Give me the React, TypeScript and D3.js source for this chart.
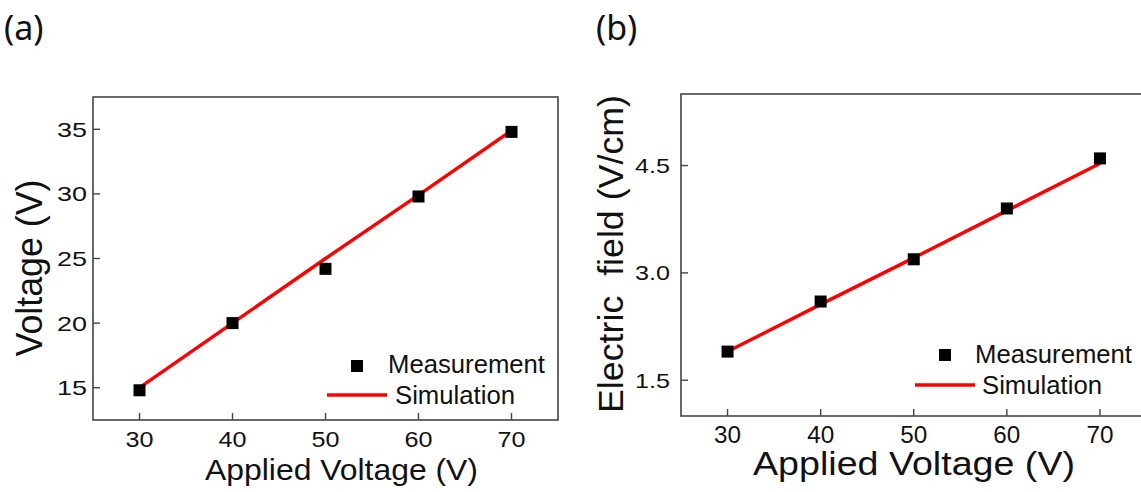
import React from "react";
import * as d3 from "d3";

// ---- data ----
const appliedVoltage = [30, 40, 50, 60, 70];
const measVoltage = [14.8, 20.0, 24.2, 29.8, 34.8];
const simVoltage = [15.0, 20.0, 25.0, 29.9, 34.9];
const measField = [1.9, 2.6, 3.19, 3.9, 4.6];
const simField = [1.9, 2.56, 3.21, 3.87, 4.53];
const xTickValues = [30, 40, 50, 60, 70];
const yTicksVoltage = [15, 20, 25, 30, 35];
const yTicksField = [1.5, 3.0, 4.5];
const legendLabels = ["Measurement", "Simulation"];

const FONT = "'Liberation Sans', Arial, Helvetica, sans-serif";

type TProps = {
  x: number; y: number; size: number; len?: number; anchor?: string;
  rotate?: boolean; children: React.ReactNode; family?: string; pre?: boolean;
};
function T({ x, y, size, len, anchor = "start", rotate, children, family = FONT, pre }: TProps) {
  return (
    <text
      x={rotate ? 0 : x}
      y={rotate ? 0 : y}
      transform={rotate ? `translate(${x},${y}) rotate(-90)` : undefined}
      fontSize={size}
      fontFamily={family}
      textAnchor={anchor}
      fill="#111"
      textLength={len}
      lengthAdjust={len ? "spacingAndGlyphs" : undefined}
      style={pre ? { whiteSpace: "pre" } : undefined}
    >
      {children}
    </text>
  );
}

type PanelProps = {
  left: number; right: number; top: number; bottom: number;
  yDomain: [number, number]; yTicks: number[]; meas: number[]; sim: number[];
  yFmt: (v: number) => string;
  xTickBase: number; xTickSize: number; xTickLen: number;
  yTickEnd: number; yTickSize: number; yTickLen: number;
  xTitle: { x: number; y: number; size: number; len: number };
  yTitle: { x: number; y: number; size: number; len: number; text: string };
  legend: { sqX: number; sqY: number; textX: number; mBase: number; lineX1: number; lineX2: number; lineY: number; sTextX: number; sBase: number };
};

function Panel(p: PanelProps) {
  const x = d3.scaleLinear().domain([25, 75]).range([p.left, p.right]);
  const y = d3.scaleLinear().domain(p.yDomain).range([p.bottom, p.top]);
  const line = d3.line<number>().x((_, i) => x(appliedVoltage[i])).y((d) => y(d));
  const tick = 7;
  const sq = 12;
  return (
    <g>
      <rect x={p.left} y={p.top} width={p.right - p.left} height={p.bottom - p.top}
        fill="none" stroke="#444" strokeWidth={1.6} />
      {xTickValues.map((t) => (
        <g key={"xt" + t}>
          <line x1={x(t)} x2={x(t)} y1={p.bottom} y2={p.bottom - tick} stroke="#444" strokeWidth={1.4} />
          <T x={x(t)} y={p.xTickBase} size={p.xTickSize} len={p.xTickLen} anchor="middle">{String(t)}</T>
        </g>
      ))}
      {p.yTicks.map((t) => (
        <g key={"yt" + t}>
          <line x1={p.left} x2={p.left + tick} y1={y(t)} y2={y(t)} stroke="#444" strokeWidth={1.4} />
          <T x={p.yTickEnd} y={y(t) + p.yTickSize * 0.36} size={p.yTickSize} len={p.yTickLen} anchor="end">{p.yFmt(t)}</T>
        </g>
      ))}
      <path d={line(p.sim) || ""} fill="none" stroke="#ff0000" strokeWidth={3.4} />
      {p.meas.map((v, i) => (
        <rect key={"m" + i} x={x(appliedVoltage[i]) - sq / 2} y={y(v) - sq / 2} width={sq} height={sq} fill="#000" />
      ))}
      {/* legend */}
      <rect x={p.legend.sqX - 6} y={p.legend.sqY - 6} width={12} height={12} fill="#000" />
      <T x={p.legend.textX} y={p.legend.mBase} size={25.5} len={157}>{legendLabels[0]}</T>
      <line x1={p.legend.lineX1} x2={p.legend.lineX2} y1={p.legend.lineY} y2={p.legend.lineY} stroke="#ff0000" strokeWidth={3.4} />
      <T x={p.legend.sTextX} y={p.legend.sBase} size={25.5} len={120}>{legendLabels[1]}</T>
      {/* titles */}
      <T x={p.xTitle.x} y={p.xTitle.y} size={p.xTitle.size} len={p.xTitle.len} anchor="middle">Applied Voltage (V)</T>
      <T x={p.yTitle.x} y={p.yTitle.y} size={p.yTitle.size} len={p.yTitle.len} anchor="middle" rotate pre>{p.yTitle.text}</T>
    </g>
  );
}

export default function App() {
  return (
    <div style={{ position: "fixed", left: 0, top: 0, width: 1141, height: 492, background: "#fff" }}>
      <svg width={1141} height={492} viewBox="0 0 1141 492" style={{ display: "block" }}>
        <rect width={1141} height={492} fill="#fff" />
        <T x={4} y={40} size={34} family="'Noto Sans', 'Open Sans', sans-serif">(a)</T>
        <T x={596} y={40} size={34} family="'Noto Sans', 'Open Sans', sans-serif">(b)</T>
        <Panel
          left={93} right={558} top={97} bottom={420}
          yDomain={[12.5, 37.5]} yTicks={yTicksVoltage} meas={measVoltage} sim={simVoltage}
          yFmt={(v) => String(v)}
          xTickBase={447} xTickSize={22} xTickLen={28}
          yTickEnd={87} yTickSize={21} yTickLen={30}
          xTitle={{ x: 341.5, y: 480, size: 29, len: 273 }}
          yTitle={{ x: 41.5, y: 268, size: 36, len: 177, text: "Voltage (V)" }}
          legend={{ sqX: 357, sqY: 366, textX: 388, mBase: 373, lineX1: 327, lineX2: 387, lineY: 395, sTextX: 395, sBase: 404 }}
        />
        <Panel
          left={681} right={1146.5} top={94} bottom={416}
          yDomain={[1.0, 5.5]} yTicks={yTicksField} meas={measField} sim={simField}
          yFmt={(v) => v.toFixed(1)}
          xTickBase={443} xTickSize={23} xTickLen={27}
          yTickEnd={670} yTickSize={21} yTickLen={35}
          xTitle={{ x: 914, y: 475, size: 32.5, len: 322 }}
          yTitle={{ x: 623, y: 254, size: 35, len: 318, text: "Electric  field (V/cm)" }}
          legend={{ sqX: 945, sqY: 355, textX: 975, mBase: 363, lineX1: 915, lineX2: 975, lineY: 385, sTextX: 982, sBase: 394 }}
        />
      </svg>
    </div>
  );
}
